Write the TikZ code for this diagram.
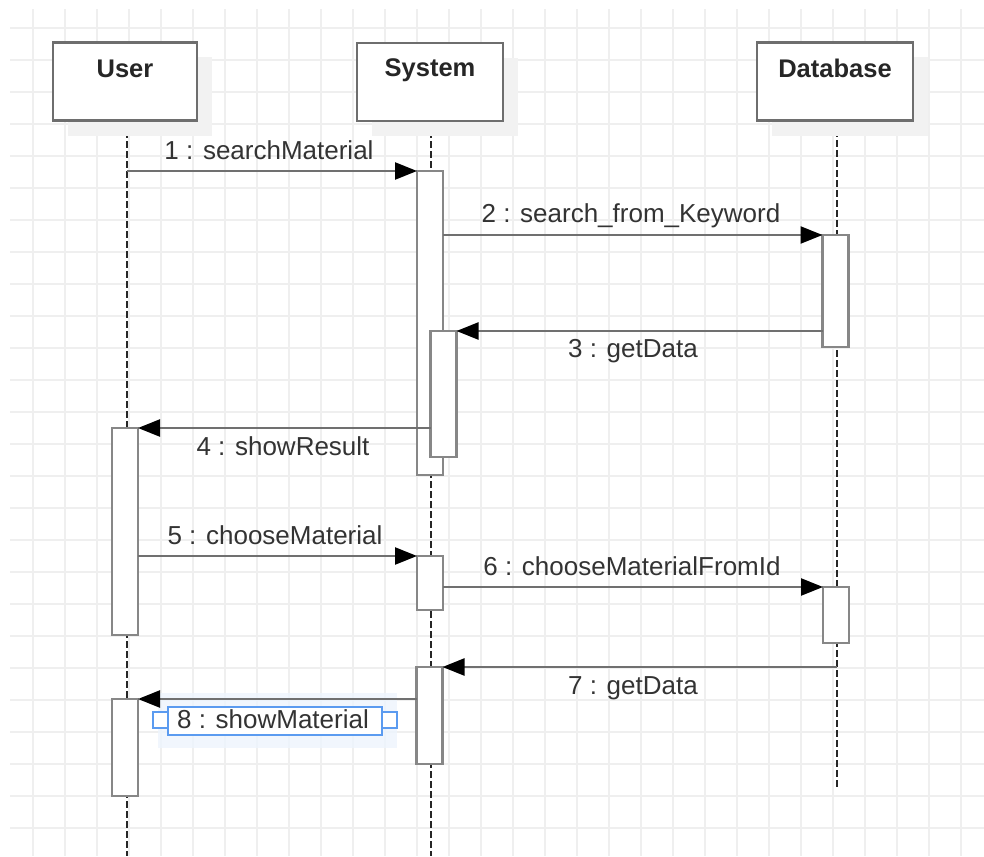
\documentclass[tikz,border=0pt]{standalone}
\usepackage{fontspec}
\setmainfont{Liberation Sans}
\usetikzlibrary{arrows.meta,shadows}

\definecolor{gridc}{HTML}{EFEFEF}
\definecolor{headc}{HTML}{6E6E6E}
\definecolor{actc}{HTML}{878787}
\definecolor{msgc}{HTML}{707070}
\definecolor{txtc}{HTML}{333333}
\definecolor{shadc}{HTML}{F2F2F2}
\definecolor{selc}{HTML}{5B9BF0}
\definecolor{selfill}{HTML}{EDF4FD}

\begin{document}
\begin{tikzpicture}[x=1pt,y=-1pt,
  gridline/.style={draw=gridc,line width=1.6pt},
  head/.style={draw=headc,line width=2.6pt,fill=white,minimum width=#1,
    minimum height=78pt,inner sep=0pt,outer sep=0pt,
    drop shadow={shadow xshift=15pt,shadow yshift=-15pt,fill=shadc,opacity=1}},
  headtxt/.style={font=\fontsize{25.5}{30}\selectfont\bfseries,text=black!85,
    inner sep=0pt,anchor=base},
  act/.style={draw=actc,line width=2.8pt,fill=white,minimum width=26pt,
    minimum height=#1,inner sep=0pt,outer sep=0pt},
  life/.style={draw=black!85,line width=1.8pt,dash pattern=on 6.5pt off 3.5pt},
  msg/.style={draw=msgc,line width=2.4pt,
    -{Triangle[length=22pt,width=17pt,color=black,fill=black]}},
  lbl/.style={font=\fontsize{26}{30}\selectfont,text=txtc,inner sep=0pt,anchor=base},
  selbox/.style={draw=selc,line width=1.6pt,fill=white}
]
\useasboundingbox (0,0) rectangle (984,856);

% background grid
\foreach \i in {0,...,29}
  \draw[gridline] (33+32*\i,9) -- (33+32*\i,856);
\foreach \j in {0,...,25}
  \draw[gridline] (10,28+32*\j) -- (984,28+32*\j);

% lifelines
\coordinate (ul0) at (127,121);  \coordinate (ul1) at (127,856);
\coordinate (sl0) at (431,121);  \coordinate (sl1) at (431,856);
\coordinate (dl0) at (837,120);  \coordinate (dl1) at (837,790);
\draw[life] (ul0) -- (ul1);
\draw[life] (sl0) -- (sl1);
\draw[life] (dl0) -- (dl1);

% participant heads
\node[head=144pt] (user) at (125,81.5) {};
\node[head=146pt] (sys)  at (430,82)   {};
\node[head=156pt] (db)   at (835,81.5) {};
\node[headtxt] (usert) at (125,78)   {User};
\node[headtxt] (syst)  at (430,77)   {System};
\node[headtxt] (dbt)   at (835,77.5) {Database};

% activation bars
\node[act=304pt] (sysA)  at (430,323)     {};
\node[act=126pt] (sysB)  at (443.5,394)   {};
\node[act=112pt] (dbA)   at (835.5,291)   {};
\node[act=207pt] (userA) at (125,531.5)   {};
\node[act=54pt]  (sysC)  at (430,583)     {};
\node[act=56pt]  (dbB)   at (836,615)     {};
\node[act=97pt]  (sysD)  at (429.5,715.5) {};
\node[act=97pt]  (userB) at (125,747.5)   {};

% selection highlight behind message 8
\fill[selfill,opacity=0.8] (158,693) rectangle (397,748);

% messages
\coordinate (m1) at (127,171);
\coordinate (m7) at (837,667);
\draw[msg] (m1) -- (sysA.north west);
\draw[msg] (sysA.east |- dbA.north) -- (dbA.north west);
\draw[msg] (dbA.west |- sysB.north) -- (sysB.north east);
\draw[msg] (sysB.west |- userA.north) -- (userA.north east);
\draw[msg] (userA.east |- sysC.north) -- (sysC.north west);
\draw[msg] (sysC.east |- dbB.north) -- (dbB.north west);
\draw[msg] (m7) -- (sysD.north east);
\draw[msg] (sysD.west |- userB.north) -- (userB.north east);

% selected label frame and handles
\draw[selbox] (168,707) rectangle (382,735);
\draw[selbox] (153,712) rectangle (168,728);
\draw[selbox] (382,712) rectangle (397,728);

% message labels
\node[lbl] (l1) at (269,159) {1 : searchMaterial};
\node[lbl] (l2) at (631,222) {2 : search\_from\_Keyword};
\node[lbl] (l3) at (633,357.5) {3 : getData};
\node[lbl] (l4) at (283,455) {4 : showResult};
\node[lbl] (l5) at (275,544) {5 : chooseMaterial};
\node[lbl] (l6) at (632,575) {6 : chooseMaterialFromId};
\node[lbl] (l7) at (633,694) {7 : getData};
\node[lbl] (l8) at (273,728) {8 : showMaterial};
\end{tikzpicture}
\end{document}
